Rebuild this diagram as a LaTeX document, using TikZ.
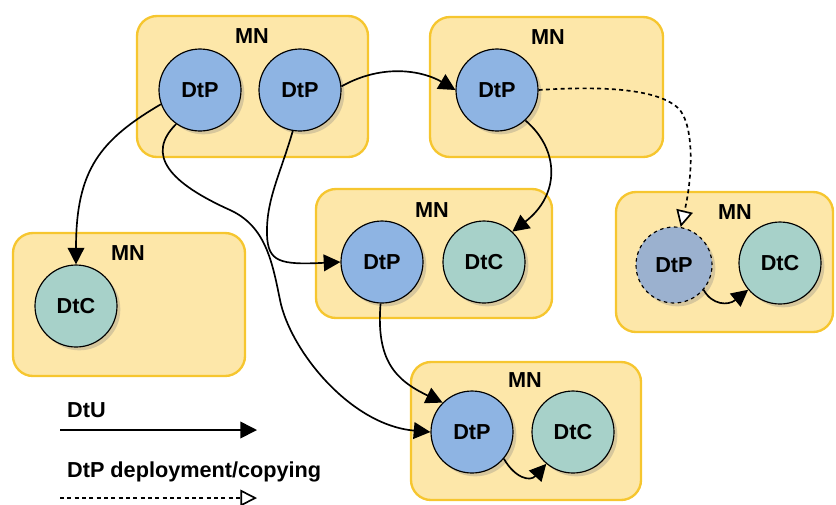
\documentclass[tikz,border=0pt]{standalone}
\usepackage{fontspec}
\setmainfont{Liberation Sans}
\usetikzlibrary{arrows.meta,shadows}
\definecolor{mnfill}{HTML}{FDE7A9}
\definecolor{mnline}{HTML}{F6C62F}
\definecolor{dtpblue}{HTML}{8EB4E3}
\definecolor{dtcgreen}{HTML}{A7D1C9}
\definecolor{dtpgrey}{HTML}{9BB1CF}

\begin{document}
\begin{tikzpicture}[x=0.3mm,y=-0.3mm,
		font=\fontsize{18.5}{21}\selectfont\bfseries,
		mnbox/.style={draw=mnline,fill=mnfill,line width=0.7mm,rounded corners=6mm},
		proc/.style={draw,shape=circle,minimum size=24.6mm,inner sep=0pt,line width=0.35mm,
			drop shadow={opacity=0.3,shadow xshift=1mm,shadow yshift=-1mm}},
		dtp/.style={proc,fill=dtpblue},
		dtc/.style={proc,fill=dtcgreen},
		dtu/.style={line width=0.5mm,-{Triangle[length=5mm,width=5mm]}},
		copying/.style={line width=0.5mm,dash pattern=on 1.2mm off 1mm,
			-{Triangle[open,fill=white,length=5mm,width=5mm]}}]
		\useasboundingbox (0,0) rectangle (836,504);
		% machine nodes
		\draw[mnbox] (137,16) rectangle (368,157);
		\draw[mnbox] (430,17) rectangle (663,157);
		\draw[mnbox] (316,189) rectangle (552,318);
		\draw[mnbox] (616,192) rectangle (833,332);
		\draw[mnbox] (13,233) rectangle (245,376);
		\draw[mnbox] (411,362) rectangle (641,500);
		\draw (252,36) 	node (mn1) {MN};
		\draw (548,37) 	node (mn2) {MN};
		\draw (432,210) node (mn3) {MN};
		\draw (735,212) node (mn4) {MN};
		\draw (128,253) node (mn5) {MN};
		\draw (525,380) node (mn6) {MN};
		% processes
		\draw (200,90) 	node (a) [dtp] {DtP};
		\draw (300,90) 	node (b) [dtp] {DtP};
		\draw (497,90) 	node (c) [dtp] {DtP};
		\draw (382,262) node (d) [dtp] {DtP};
		\draw (484,262) node (e) [dtc] {DtC};
		\draw (674,265) node (f) [proc,fill=dtpgrey,dashed,minimum size=22.8mm] {DtP};
		\draw (780,263) node (g) [dtc] {DtC};
		\draw (76,306) 	node (h) [dtc] {DtC};
		\draw (472,432) node (i) [dtp] {DtP};
		\draw (573,432) node (j) [dtc] {DtC};
		% usage
		\draw[dtu] (a.200) .. controls (100,140) and (76,170) .. (h.north);
		\draw[dtu] (a.235) .. controls (145,155) and (170,183) .. (230,210)
			.. controls (265,226) and (272,260) .. (280,300)
			.. controls (290,350) and (350,425) .. (i.west);
		\draw[dtu] (b.260) .. controls (280,175) and (266,200) .. (267,235)
			.. controls (268,262) and (280,265) .. (d.west);
		\draw[dtu] (b.5) .. controls (385,62) and (425,72) .. (c.west);
		\draw[dtu] (c.-47) .. controls (560,150) and (560,195) .. (e.47);
		\draw[dtu] (d.268) .. controls (376,360) and (395,380) .. (i.135);
		\draw[dtu] (f.-40) .. controls (712,305) and (728,306) .. (g.220);
		\draw[dtu] (i.-40) .. controls (515,478) and (530,482) .. (j.230);
		% deployment
		\draw[copying] (c.east) .. controls (600,86) and (660,88) .. (680,110)
			.. controls (695,130) and (692,180) .. (f.80);
		% legend
		\coordinate (u1) at (60,430);
		\coordinate (u2) at (257,430);
		\coordinate (p1) at (60,498);
		\coordinate (p2) at (257,498);
		\draw (63,410) 	node (dtu label) [anchor=west] {DtU};
		\draw (63,472) 	node (cp label) [anchor=west] {DtP deployment/copying};
		\draw[dtu] (u1) -- (u2);
		\draw[copying] (p1) -- (p2);
	\end{tikzpicture}
\end{document}
